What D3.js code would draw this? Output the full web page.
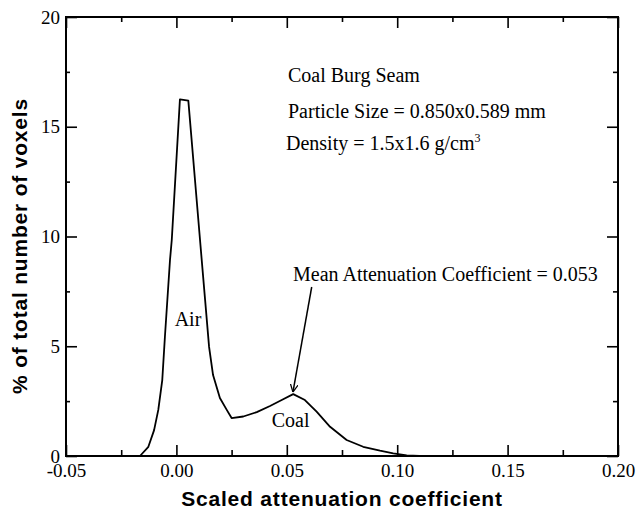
<!DOCTYPE html>
<html>
<head>
<meta charset="utf-8">
<script src="https://cdn.jsdelivr.net/npm/d3@7"></script>
<style>
  body { margin: 0; background: #fff; }
  svg { display: block; }
  .serif { font-family: "Liberation Serif", "Times New Roman", serif; font-size: 20px; fill: #000; }
  .tick-label { font-family: "Liberation Serif", "Times New Roman", serif; font-size: 19px; fill: #000; }
  .axis-title { font-family: "Liberation Sans", Arial, sans-serif; font-weight: bold; font-size: 21px; letter-spacing: 0.8px; fill: #000; }
</style>
</head>
<body>
<svg id="chart" width="638" height="511"></svg>
<script>
// 直方图数据
const attenuation = [-0.05, -0.0165, -0.0127, -0.0101, -0.0082, -0.0064, -0.0052, -0.0029, -0.0021, 0.0016, 0.0054,
  0.0107, 0.0130, 0.0148, 0.0166, 0.0197, 0.0228, 0.0250, 0.0303, 0.0364, 0.0424, 0.0477, 0.0529,
  0.0582, 0.0635, 0.0696, 0.0771, 0.0846, 0.0922, 0.0982, 0.1043, 0.110, 0.118];
const voxelPercent = [0, 0, 0.42, 1.18, 2.10, 3.46, 5.43, 8.93, 9.84, 16.25, 16.19,
  9.84, 7.11, 4.97, 3.69, 2.64, 2.10, 1.73, 1.80, 2.00, 2.28, 2.55, 2.82,
  2.55, 2.02, 1.33, 0.73, 0.42, 0.24, 0.12, 0.03, 0, 0];

const xMajorTicks = [-0.05, 0.00, 0.05, 0.10, 0.15, 0.20];
const xMinorTicks = [-0.025, 0.025, 0.075, 0.125, 0.175];
const yMajorTicks = [0, 5, 10, 15, 20];
const yMinorTicks = [2.5, 7.5, 12.5, 17.5];

const infoLines = ["Coal Burg Seam", "Particle Size = 0.850x0.589 mm"];
const meanValue = 0.053;

const svg = d3.select("#chart");
const margin = { left: 66, top: 17, right: 20, bottom: 55 };
const width = 638 - margin.left - margin.right;
const height = 511 - margin.top - margin.bottom;

const g = svg.append("g").attr("transform", `translate(${margin.left},${margin.top})`);

const x = d3.scaleLinear().domain([-0.05, 0.20]).range([0, width]);
const y = d3.scaleLinear().domain([0, 20]).range([height, 0]);

// 坐标轴 (刻度朝内)
function styleAxis(sel) {
  sel.select(".domain").remove();
  sel.selectAll("line").attr("stroke", "#000").attr("stroke-width", 1.6);
  sel.selectAll("text").attr("class", "tick-label").attr("font-size", null).attr("font-family", null);
}

const fmt = d3.format(".2f");
g.append("g").attr("transform", `translate(0,${height})`)
  .call(d3.axisBottom(x).tickValues(xMajorTicks).tickSize(-11).tickPadding(7.5)
    .tickFormat(d => d < 0 ? "-" + fmt(-d) : fmt(d)))
  .call(styleAxis);
g.append("g").attr("transform", `translate(0,${height})`)
  .call(d3.axisBottom(x).tickValues(xMinorTicks).tickSize(-6).tickFormat(""))
  .call(styleAxis);
g.append("g")
  .call(d3.axisTop(x).tickValues(xMajorTicks).tickSize(-11).tickFormat(""))
  .call(styleAxis);
g.append("g")
  .call(d3.axisTop(x).tickValues(xMinorTicks).tickSize(-5).tickFormat(""))
  .call(styleAxis);

g.append("g")
  .call(d3.axisLeft(y).tickValues(yMajorTicks).tickSize(-11).tickPadding(6).tickFormat(d3.format("d")))
  .call(styleAxis);
g.append("g")
  .call(d3.axisLeft(y).tickValues(yMinorTicks).tickSize(-4).tickFormat(""))
  .call(styleAxis);
g.append("g").attr("transform", `translate(${width},0)`)
  .call(d3.axisRight(y).tickValues(yMajorTicks).tickSize(-11).tickFormat(""))
  .call(styleAxis);
g.append("g").attr("transform", `translate(${width},0)`)
  .call(d3.axisRight(y).tickValues(yMinorTicks).tickSize(-5).tickFormat(""))
  .call(styleAxis);

// 外框
g.append("rect")
  .attr("width", width).attr("height", height)
  .attr("fill", "none").attr("stroke", "#000").attr("stroke-width", 2);

// 曲线
const line = d3.line().x((d, i) => x(attenuation[i])).y(d => y(d));
g.append("path")
  .datum(voxelPercent)
  .attr("d", line)
  .attr("fill", "none")
  .attr("stroke", "#000")
  .attr("stroke-width", 1.8)
  .attr("stroke-linejoin", "round");

// 文字标注
infoLines.forEach((t, i) => {
  g.append("text").attr("class", "serif")
    .attr("x", 288 - margin.left).attr("y", 82 - margin.top + i * 36)
    .text(t);
});
const dens = g.append("text").attr("class", "serif")
  .attr("x", 286 - margin.left).attr("y", 150 - margin.top);
dens.append("tspan").text("Density = 1.5x1.6 g/cm");
dens.append("tspan").attr("dy", -8).attr("font-size", 12).text("3");

g.append("text").attr("class", "serif")
  .attr("x", 293 - margin.left).attr("y", 281 - margin.top)
  .text("Mean Attenuation Coefficient = " + meanValue.toFixed(3));

g.append("text").attr("class", "serif")
  .attr("x", x(-0.0008)).attr("y", y(5.9)).text("Air");
g.append("text").attr("class", "serif")
  .attr("x", x(0.0432)).attr("y", y(1.33)).text("Coal");

// 箭头
svg.append("defs").append("marker")
  .attr("id", "arrow").attr("viewBox", "0 0 10 10")
  .attr("refX", 10).attr("refY", 5)
  .attr("markerWidth", 8).attr("markerHeight", 8)
  .attr("markerUnits", "userSpaceOnUse")
  .attr("orient", "auto")
  .append("path").attr("d", "M0,0 L10,5 L0,10").attr("fill", "none").attr("stroke", "#000").attr("stroke-width", 1.6);
g.append("line")
  .attr("x1", 311.7 - margin.left).attr("y1", 287 - margin.top)
  .attr("x2", x(meanValue) - 0.5).attr("y2", y(2.82) - 2)
  .attr("stroke", "#000").attr("stroke-width", 1.5)
  .attr("marker-end", "url(#arrow)");

// 轴标题
svg.append("text").attr("class", "axis-title")
  .attr("x", margin.left + width / 2).attr("y", 506)
  .attr("text-anchor", "middle")
  .text("Scaled attenuation coefficient");
svg.append("text").attr("class", "axis-title")
  .attr("transform", "translate(27,246) rotate(-90)")
  .attr("text-anchor", "middle")
  .text("% of total number of voxels");
</script>
</body>
</html>
